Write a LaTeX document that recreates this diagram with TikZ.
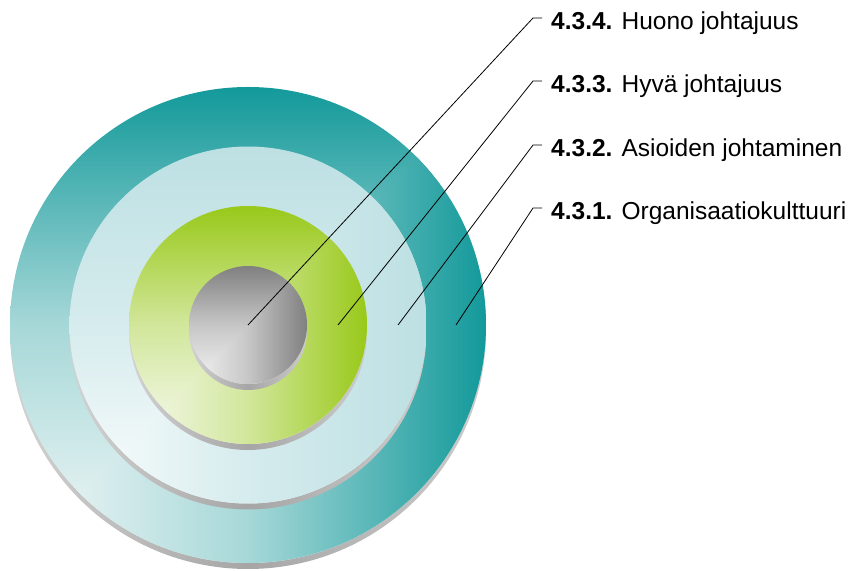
\documentclass[tikz,border=0pt]{standalone}
\usepackage{fontspec}
\setmainfont{Liberation Sans}
\usetikzlibrary{calc}

\definecolor{tealdark}{HTML}{13999A}
\definecolor{tealpale}{HTML}{F6F9F9}
\definecolor{bluelight}{HTML}{BDE0E3}
\definecolor{bluepale}{HTML}{FBFDFD}
\definecolor{greenmid}{HTML}{99C91A}
\definecolor{greenpale}{HTML}{F7FAF1}
\definecolor{graymid}{HTML}{808080}
\definecolor{graypale}{HTML}{F5F5F5}

\tikzset{
  ringshadow/.style={left color=gray!35, right color=gray!40, middle color=gray!70},
  lbl/.style={anchor=base west, inner sep=0pt, font=\fontsize{24.5}{29}\selectfont},
  leader/.style={black, line width=0.8pt}
}

\begin{document}
\begin{tikzpicture}[x=1pt,y=1pt]
  \useasboundingbox (0,0) rectangle (850,570);
  \coordinate (c) at (248,245);
  % rings, from the outside in
  \foreach \r/\cc/\pc/\m in {238/tealdark/tealpale/35, 178.5/bluelight/bluepale/60,
                             119/greenmid/greenpale/40, 59/graymid/graypale/40}{
    \shade[ringshadow] ($(c)+(0,-6)$) circle (\r pt);
    \begin{scope}
      \clip (c) circle (\r pt);
      \shade[top color=\cc, bottom color=\pc, middle color=\cc!\m!\pc]
        ($(c)+(-\r,-\r)$) rectangle ($(c)+(\r,\r)$);
      \clip ($(c)+(-\r,-\r)$) -- ($(c)+(\r,\r)$) -- ($(c)+(\r,-\r)$) -- cycle;
      \shade[left color=\pc, right color=\cc, middle color=\cc!\m!\pc]
        ($(c)+(-\r,-\r)$) rectangle ($(c)+(\r,\r)$);
    \end{scope}
  }

  % labels
  \node[lbl] (l4) at (551,540) {\textbf{4.3.4.} Huono johtajuus};
  \node[lbl] (l3) at (551,477) {\textbf{4.3.3.} Hyvä johtajuus};
  \node[lbl] (l2) at (551,413) {\textbf{4.3.2.} Asioiden johtaminen};
  \node[lbl] (l1) at (551,350) {\textbf{4.3.1.} Organisaatiokulttuuri};

  \coordinate (p4) at (248,245);
  \coordinate (p3) at (338,245);
  \coordinate (p2) at (398,245);
  \coordinate (p1) at (456,245);

  \draw[leader] (p4) -- ([shift={(-18,12)}]l4.base west) -- ([shift={(-9,12)}]l4.base west);
  \draw[leader] (p3) -- ([shift={(-18,12)}]l3.base west) -- ([shift={(-9,12)}]l3.base west);
  \draw[leader] (p2) -- ([shift={(-18,12)}]l2.base west) -- ([shift={(-9,12)}]l2.base west);
  \draw[leader] (p1) -- ([shift={(-18,12)}]l1.base west) -- ([shift={(-9,12)}]l1.base west);
\end{tikzpicture}
\end{document}
